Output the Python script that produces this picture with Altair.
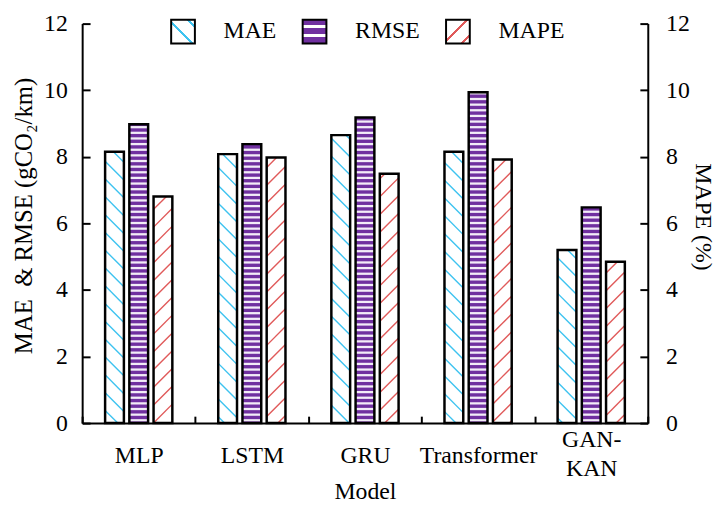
import math
import altair as alt
import pandas as pd

# ---------------- data ----------------
models = ["MLP", "LSTM", "GRU", "Transformer", "GAN-KAN"]
series = ["MAE", "RMSE", "MAPE"]
mae_vals = [8.15, 8.08, 8.65, 8.15, 5.20]
rmse_vals = [8.98, 8.38, 9.18, 9.94, 6.48]
mape_vals = [6.81, 7.98, 7.49, 7.92, 4.85]
y_ticks = [0, 2, 4, 6, 8, 10, 12]

values = {"MAE": mae_vals, "RMSE": rmse_vals, "MAPE": mape_vals}

# ---------------- style ----------------
FONT = "Liberation Serif"
W, H = 572, 404
YMAX = 12
PI, PO = 0.2245, 0.947
PURPLE = "#7030A0"
BLUE = "#3EC3F0"
RED = "#E05A5A"
STRIPE = "#F3ECF8"

bars = pd.DataFrame(
    [{"Model": m, "Series": s, "Value": values[s][i]}
     for s in series for i, m in enumerate(models)]
)

# ---------------- hatch geometry (derived from bar values) ----------------
B = W / len(models)
n = len(series)
ostep = B / (n - PI + 2 * PO)
obw = ostep * (1 - PI)
ostart = (B - ostep * (n - PI)) / 2
py = H / YMAX
SP = 18.0   # diagonal spacing (vertical, px)
SS = 5.7    # stripe period (px)

rows_diag, rows_stripe = [], []
for i, m in enumerate(models):
    for j, s in enumerate(series):
        v = values[s][i]
        uL = i * B + ostart + j * ostep
        uR = uL + obw
        hv = v * py
        if s == "RMSE":
            h = SS * 0.5
            while h < hv - 1.0:
                rows_stripe.append({"x": uL / B, "x2": uR / B, "y": h / py, "y2": h / py})
                h += SS
        elif s == "MAE":
            k = math.ceil(uL / SP) * SP
            while k < uR + hv:
                u1, u2 = max(uL, k - hv), min(uR, k)
                if u2 - u1 > 0.5:
                    rows_diag.append({"x": u1 / B, "x2": u2 / B,
                                      "y": (k - u1) / py, "y2": (k - u2) / py, "Series": s})
                k += SP
        else:
            k = math.floor((uL - hv) / SP) * SP
            while k < uR:
                u1, u2 = max(uL, k), min(uR, k + hv)
                if u2 - u1 > 0.5:
                    rows_diag.append({"x": u1 / B, "x2": u2 / B,
                                      "y": (u1 - k) / py, "y2": (u2 - k) / py, "Series": s})
                k += SP

diag = pd.DataFrame(rows_diag)
stripes = pd.DataFrame(rows_stripe)


def grad(x1, y1, x2, y2, bg, fg, centers, half):
    stops = [f"{{offset:0,color:'{bg}'}}"]
    for c in centers:
        stops += [f"{{offset:{c - half:.3f},color:'{bg}'}}",
                  f"{{offset:{c - half:.3f},color:'{fg}'}}",
                  f"{{offset:{c + half:.3f},color:'{fg}'}}",
                  f"{{offset:{c + half:.3f},color:'{bg}'}}"]
    stops.append(f"{{offset:1,color:'{bg}'}}")
    return (f"{{gradient:'linear',x1:{x1},y1:{y1},x2:{x2},y2:{y2},"
            f"stops:[{','.join(stops)}]}}")


g_mae = grad(0, 1, 1, 0, "white", BLUE, [0.45, 0.85], 0.03)
g_rmse = grad(0, 0, 0, 1, PURPLE, "white", [0.30, 0.68], 0.06)
g_mape = grad(0, 0, 1, 1, "white", RED, [0.45, 0.82], 0.03)
sym_expr = (f"datum.value === 'MAE' ? {g_mae} : "
            f"(datum.value === 'RMSE' ? {g_rmse} : {g_mape})")

# ---------------- scales / axes ----------------
xband = alt.Scale(domain=models, paddingInner=0, paddingOuter=0, round=False)
xoff = alt.Scale(domain=series, paddingInner=PI, paddingOuter=PO, round=False)
yscale = alt.Scale(domain=[0, YMAX], nice=False, zero=True)
xq = alt.Scale(domain=[0, len(models)], nice=False, zero=False)

x_axis = alt.Axis(
    title="Model", tickBand="extent", tickSize={"expr": "-7"}, tickWidth=2,
    tickColor="black", domainColor="black", domainWidth=2, labelAngle=0,
    labelFontSize=24, labelFont=FONT, labelColor="black",
    labelPadding={"expr": "datum.value == 'GAN-KAN' ? 24 : 40"},
    labelBaseline="middle", labelLineHeight=29,
    labelExpr="datum.label == 'GAN-KAN' ? ['GAN-', 'KAN'] : datum.label",
    titleFontSize=24, titleFont=FONT, titleFontWeight="normal",
    titleColor="black", titleY=76, titleBaseline="alphabetic",
)

yl_axis = alt.Axis(
    values=y_ticks, orient="left", title="MAE\u00a0 & RMSE (gCO\u2082/km)",
    tickSize={"expr": "-8"}, tickWidth=2, tickColor="black",
    domainColor="black", domainWidth=2, grid=False,
    labelFontSize=24, labelFont=FONT, labelColor="black", labelPadding=23,
    titleFontSize=25, titleFont=FONT, titleFontWeight="normal",
    titleColor="black", titleAngle=270, titleX=-59, titleY=194,
    titleBaseline="middle", titleAlign="center",
)

yr_axis = alt.Axis(
    values=y_ticks, orient="right", title="MAPE (%)",
    tickSize={"expr": "-8"}, tickWidth=2, tickColor="black",
    domainColor="black", domainWidth=2, grid=False,
    labelFontSize=24, labelFont=FONT, labelColor="black", labelPadding=26,
    titleFontSize=24, titleFont=FONT, titleFontWeight="normal",
    titleColor="black", titleAngle=90, titleX=55, titleY=195,
    titleBaseline="middle", titleAlign="center",
)

legend = alt.Legend(
    title=None, orient="none", legendX=89, legendY=-5, direction="horizontal",
    symbolType="square", symbolSize=576, symbolStrokeColor="black",
    symbolFillColor={"expr": sym_expr}, symbolOpacity=1,
    symbolStrokeWidth=2, labelFontSize=24, labelFont=FONT, labelColor="black",
    labelOffset=28, columnPadding=22, padding=0,
)

# fill scale listed in another order so its (hidden) legend stays separate
fill_order = ["RMSE", "MAE", "MAPE"]

# ---------------- layers ----------------
fill_layer = alt.Chart(bars).mark_bar(strokeWidth=0).encode(
    x=alt.X("Model:N", scale=xband, axis=x_axis, sort=models),
    xOffset=alt.XOffset("Series:N", scale=xoff, sort=series),
    y=alt.Y("Value:Q", scale=yscale, axis=yl_axis),
    fill=alt.Fill("Series:N",
                  scale=alt.Scale(domain=fill_order, range=[PURPLE, "white", "white"]),
                  legend=None),
    opacity=alt.Opacity("Series:N", sort=series,
                        scale=alt.Scale(domain=series, range=[1, 1, 1]),
                        legend=legend),
)

diag_layer = alt.Chart(diag).mark_rule(strokeWidth=1.4).encode(
    x=alt.X("x:Q", scale=xq, axis=None),
    x2="x2:Q",
    y=alt.Y("y:Q", scale=yscale, axis=None),
    y2="y2:Q",
    stroke=alt.condition("datum.Series === 'MAE'", alt.value(BLUE), alt.value(RED)),
)

stripe_layer = alt.Chart(stripes).mark_rule(strokeWidth=2.3, color=STRIPE).encode(
    x=alt.X("x:Q", scale=xq, axis=None),
    x2="x2:Q",
    y=alt.Y("y:Q", scale=yscale, axis=None),
    y2="y2:Q",
)

outline_layer = alt.Chart(bars).mark_bar(fillOpacity=0, stroke="black", strokeWidth=2.5).encode(
    x=alt.X("Model:N", scale=xband, axis=None, sort=models),
    xOffset=alt.XOffset("Series:N", scale=xoff, sort=series),
    y=alt.Y("Value:Q", scale=yscale, axis=yr_axis),
)

chart = (
    alt.layer(fill_layer, diag_layer, stripe_layer, outline_layer)
    .resolve_scale(x="independent", y="independent")
    .properties(
        width=W, height=H,
        autosize=alt.AutoSizeParams(type="none"),
        padding={"left": 75, "top": 13, "right": 70, "bottom": 77},
    )
    .configure_view(stroke=None)
)

chart.save("out.html", embed_options={"renderer": "svg", "actions": False})
